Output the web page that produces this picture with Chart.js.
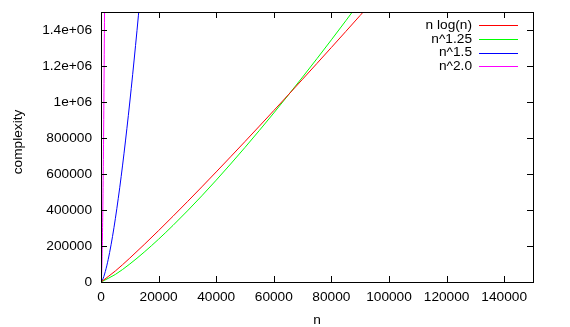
<!DOCTYPE html>
<html>
<head>
<meta charset="utf-8">
<script src="https://cdn.jsdelivr.net/npm/chart.js@4/dist/chart.umd.min.js"></script>
<style>
  html, body { margin: 0; padding: 0; background: #fff; }
  #wrap { width: 570px; height: 327px; }
</style>
</head>
<body>
<div id="wrap"><canvas id="chart" width="570" height="327"></canvas></div>
<script>
// values
const seriesLabels = ["n log(n)", "n^1.25", "n^1.5", "n^2.0"];
const seriesColors = ["#ff0000", "#00ff00", "#0000ff", "#ff00ff"];

const nA = [0, 5000, 10000, 15000, 20000, 25000, 30000, 35000, 40000, 45000, 50000,
  55000, 60000, 65000, 70000, 75000, 80000, 85000, 90000, 95000];
const nLogN = [0, 61439, 132877, 208090, 285754, 365241, 446180, 528327, 611508, 695594, 780482,
  866093, 952361, 1039230, 1126655, 1214595, 1303017, 1391890, 1481187, 1570886];
const nPow125 = [0, 42045, 100000, 166000, 237840, 314350, 394830, 478730, 565685, 655410, 747660,
  842270, 939060, 1037860, 1138600, 1241150, 1345440, 1451370, 1558850, 1667000];

const nB = [0, 500, 1000, 2000, 3000, 4000, 5000, 6000, 7000, 8000, 9000, 10000,
  11000, 12000, 13000, 14000];
const nPow15 = [0, 11180, 31623, 89443, 164317, 252982, 353553, 464758, 585662, 715542, 853815, 1000000,
  1153690, 1314534, 1482228, 1656502];

const nC = [0, 200, 400, 600, 800, 1000, 1200, 1400];
const nPow2 = [0, 40000, 160000, 360000, 640000, 1000000, 1440000, 1960000];

const xTicks = [0, 20000, 40000, 60000, 80000, 100000, 120000, 140000];
const yTicks = [0, 200000, 400000, 600000, 800000, 1000000, 1200000, 1400000];
const yTickLabels = ["0", "200000", "400000", "600000", "800000", "1e+06", "1.2e+06", "1.4e+06"];
const yTitle = "complexity";

function pts(xs, ys) {
  return xs.map((x, i) => ({ x: x, y: ys[i] }));
}

const font = { family: "'Liberation Sans', Arial, sans-serif", size: 13.7 };

// gnuplot style frame: full border, ticks pointing inward on every side, key top right
const framePlugin = {
  id: "frame",
  afterDraw(chart) {
    const c = chart.ctx;
    const a = chart.chartArea;
    const xs = chart.scales.x;
    const ys = chart.scales.y;
    const t = 6;
    const L = Math.round(a.left);
    const R = Math.round(a.right);
    const T = Math.round(a.top);
    const B = Math.round(a.bottom);

    c.save();
    c.fillStyle = "#000000";
    xTicks.forEach(v => {
      const px = Math.round(xs.getPixelForValue(v));
      c.fillRect(px, B - t, 1, t);
      c.fillRect(px, T, 1, t);
    });
    yTicks.forEach(v => {
      const py = Math.round(ys.getPixelForValue(v));
      c.fillRect(L, py, t, 1);
      c.fillRect(R - t, py, t, 1);
    });
    c.fillRect(L, T, R - L + 1, 1);
    c.fillRect(L, B, R - L + 1, 1);
    c.fillRect(L, T, 1, B - T + 1);
    c.fillRect(R, T, 1, B - T + 1);

    c.font = font.size + "px " + font.family;
    c.textBaseline = "middle";

    // y axis title, gnuplot puts it a little above the middle
    c.save();
    c.translate(18, 142);
    c.rotate(-Math.PI / 2);
    c.textAlign = "center";
    c.fillText(yTitle, 0, 0);
    c.restore();

    // key
    c.textAlign = "right";
    seriesLabels.forEach((label, i) => {
      const y = 25 + i * 13.8;
      c.fillStyle = "#000000";
      c.fillText(label, 472, y);
      c.fillStyle = seriesColors[i];
      c.fillRect(479, Math.round(y), 39, 1);
    });
    c.restore();
  }
};

const ctx = document.getElementById("chart").getContext("2d");
new Chart(ctx, {
  type: "line",
  data: {
    datasets: [
      { label: seriesLabels[0], data: pts(nA, nLogN), borderColor: seriesColors[0] },
      { label: seriesLabels[1], data: pts(nA, nPow125), borderColor: seriesColors[1] },
      { label: seriesLabels[2], data: pts(nB, nPow15), borderColor: seriesColors[2] },
      { label: seriesLabels[3], data: pts(nC, nPow2), borderColor: seriesColors[3] }
    ]
  },
  options: {
    responsive: false,
    animation: false,
    events: [],
    layout: { padding: { top: 12, right: 37, left: 0, bottom: 0 } },
    elements: {
      point: { radius: 0 },
      line: { borderWidth: 1, cubicInterpolationMode: "monotone", fill: false }
    },
    plugins: { legend: { display: false }, tooltip: { enabled: false } },
    scales: {
      x: {
        type: "linear",
        min: 0,
        max: 150000,
        grid: { display: false, drawTicks: false },
        border: { display: false },
        afterBuildTicks(scale) { scale.ticks = xTicks.map(v => ({ value: v })); },
        ticks: {
          color: "#000",
          font: font,
          padding: 7,
          maxRotation: 0,
          autoSkip: false,
          callback(v) { return String(v); }
        },
        title: { display: true, text: "n", color: "#000", font: font, padding: { top: 0, bottom: -1 } },
        afterFit(scale) {
          scale.height = 45;
          scale.paddingLeft = 0;
          scale.paddingRight = 0;
        }
      },
      y: {
        type: "linear",
        min: 0,
        max: 1500000,
        grid: { display: false, drawTicks: false },
        border: { display: false },
        afterBuildTicks(scale) { scale.ticks = yTicks.map(v => ({ value: v })); },
        ticks: {
          color: "#000",
          font: font,
          padding: 9,
          autoSkip: false,
          callback(v) { return yTickLabels[yTicks.indexOf(v)]; }
        },
        title: { display: false },
        afterFit(scale) {
          scale.width = 101;
          scale.paddingTop = 0;
          scale.paddingBottom = 0;
        }
      }
    }
  },
  plugins: [framePlugin]
});
</script>
</body>
</html>
